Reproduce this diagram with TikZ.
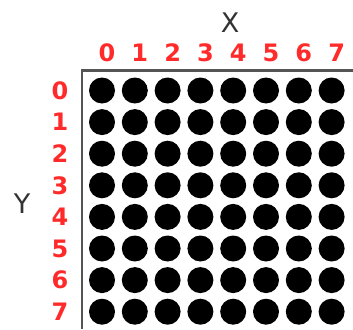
\documentclass[tikz,border=0pt]{standalone}
\usepackage{fontspec}
\setmainfont{DejaVu Sans}
\definecolor{lblred}{HTML}{FF2A2A}
\definecolor{axisgray}{HTML}{333333}
\definecolor{framegray}{HTML}{555555}
\begin{document}
\begin{tikzpicture}[x=1pt,y=-1pt,
  dot/.style={circle,fill=black,minimum size=26pt,inner sep=0pt},
  idx/.style={text=lblred,font=\fontsize{24}{24}\selectfont\bfseries,inner sep=0pt},
  axislbl/.style={text=axisgray,font=\fontsize{27}{27}\selectfont,inner sep=0pt},
  frameline/.style={draw=framegray,line width=2.5pt}]
\useasboundingbox (0,0) rectangle (353,329);
\coordinate (fr) at (353,70.5);
\coordinate (fc) at (82,70.5);
\coordinate (fb) at (82,329);
\draw[frameline] (fr) -- (fc) -- (fb);
\foreach \i in {0,...,7}{
  \node[idx] (cx\i) at ({107+32.8*\i},53) {\i};
  \node[idx] (ry\i) at (60,{90.5+31.6*\i}) {\i};
  \foreach \j in {0,...,7}{
    \node[dot] (d\i\j) at ({102+32.8*\i},{90.5+31.6*\j}) {};
  }
}
\node[axislbl] (xl) at (230,23) {X};
\node[axislbl] (yl) at (22,204) {Y};
\end{tikzpicture}
\end{document}
